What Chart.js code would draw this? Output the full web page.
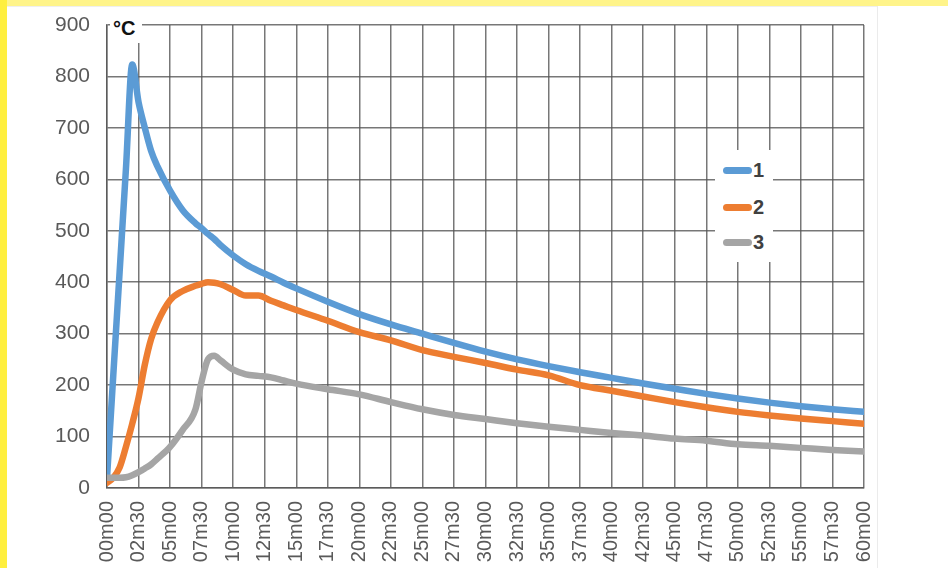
<!DOCTYPE html>
<html>
<head>
<meta charset="utf-8">
<script src="https://cdn.jsdelivr.net/npm/chart.js@4.4.1/dist/chart.umd.min.js"></script>
<style>
  body { margin: 0; background: #fff; }
  #wrap { position: relative; width: 948px; height: 568px; overflow: hidden; background: #fff; }
  #topband { position: absolute; left: 0; top: 0; width: 948px; height: 6px; background: #fff48a; }
  #leftband { position: absolute; left: 0; top: 0; width: 7px; height: 568px; background: #ffef3e; }
  #edge { position: absolute; left: 877px; top: 6px; width: 1px; height: 562px; background: #ebebeb; }
  #panelTop { position: absolute; left: 7px; top: 6px; width: 870px; height: 1px; background: #efefef; }
  canvas { position: absolute; left: 0; top: 0; }
  #unit { position: absolute; left: 110px; top: 14px; width: 32px; height: 29px; background: #fff;
          font: bold 20px "Liberation Sans", Arial, sans-serif; color: #111; line-height: 29px; padding-left: 3px; box-sizing: border-box; }
  #legend { position: absolute; left: 715px; top: 150px; width: 58px; height: 112px; background: #fff; }
  .item { position: absolute; left: 8px; height: 22px; }
  .swatch { position: absolute; left: 0; top: 8px; width: 29px; height: 7px; border-radius: 4px; }
  .lab { position: absolute; left: 30px; top: 0; font: bold 20px "Liberation Sans", Arial, sans-serif; color: #404040; line-height: 22px; }
</style>
</head>
<body>
<div id="wrap">
  <div id="topband"></div>
  <div id="leftband"></div>
  <div id="panelTop"></div>
  <div id="edge"></div>
  <canvas id="myChart" width="948" height="568"></canvas>
  <div id="unit">°C</div>
  <div id="legend"></div>
</div>
<script>
// temps en minutes
const temps = [0, 0.5, 1, 1.5, 2, 2.5, 3, 3.5, 4, 5, 6, 7, 7.5, 8, 8.5, 9, 10, 11, 12, 13, 14, 15,
  17.5, 20, 22.5, 25, 27.5, 30, 32.5, 35, 37.5, 40, 42.5, 45, 47.5, 50, 52.5, 55, 57.5, 60];

const serie1 = [20, 220, 420, 620, 823, 750, 700, 655, 625, 578, 540, 515, 505, 494, 484, 472, 452, 435, 422, 411, 399, 388,
  362, 338, 318, 300, 282, 265, 250, 237, 225, 214, 203, 193, 183, 174, 166, 159, 153, 148];

const serie2 = [10, 20, 40, 80, 125, 175, 240, 290, 322, 365, 383, 393, 397, 400, 399, 396, 385, 374, 374, 364, 355, 346,
  325, 303, 287, 268, 255, 243, 230, 219, 200, 189, 178, 167, 157, 148, 141, 135, 130, 125];

const serie3 = [20, 20, 20, 21, 25, 31, 38, 46, 57, 80, 113, 152, 207, 250, 257, 248, 230, 221, 218, 215, 209, 203,
  192, 182, 167, 153, 142, 134, 126, 119, 113, 107, 102, 96, 92, 85, 82, 78, 74, 71];

const nomes = ['1', '2', '3'];
const cores = ['#5b9bd5', '#ed7d31', '#a5a5a5'];

const rotulosX = ['00m00', '02m30', '05m00', '07m30', '10m00', '12m30', '15m00', '17m30', '20m00', '22m30',
  '25m00', '27m30', '30m00', '32m30', '35m00', '37m30', '40m00', '42m30', '45m00', '47m30', '50m00',
  '52m30', '55m00', '57m30', '60m00'];
const rotulosY = ['0', '100', '200', '300', '400', '500', '600', '700', '800', '900'];

function pontos(valores) {
    return temps.map((t, i) => ({ x: t, y: valores[i] }));
}

const series = [serie1, serie2, serie3];

const data = {
    datasets: series.map((s, i) => ({
        label: nomes[i],
        data: pontos(s),
        borderColor: cores[i],
        backgroundColor: cores[i],
        borderWidth: 6.5,
        pointRadius: 0,
        cubicInterpolationMode: 'monotone',
        borderCapStyle: 'round',
        borderJoinStyle: 'round',
        order: 3 - i
    }))
};

const corGrade = 'rgba(85,85,85,0.8)';
const fonteX = { family: '"Liberation Sans", Arial, sans-serif', size: 20 };
const fonteY = { family: '"Liberation Sans", Arial, sans-serif', size: 21 };

const config = {
    type: 'line',
    data: data,
    options: {
        responsive: false,
        animation: false,
        devicePixelRatio: 1,
        layout: { padding: { left: 0, right: 84, top: 25, bottom: 0 } },
        plugins: { legend: { display: false }, tooltip: { enabled: false } },
        scales: {
            x: {
                type: 'linear',
                min: 0,
                max: 60,
                afterFit: (scale) => { scale.height = 80; },
                ticks: {
                    stepSize: 2.5,
                    autoSkip: false,
                    maxTicksLimit: 100,
                    minRotation: 90,
                    maxRotation: 90,
                    padding: 13,
                    color: '#595959',
                    font: fonteX,
                    callback: (v, idx) => rotulosX[idx]
                },
                grid: { color: corGrade, lineWidth: 1.5, drawTicks: false },
                border: { color: corGrade, width: 1.5 }
            },
            y: {
                min: 0,
                max: 900,
                afterFit: (scale) => { scale.width = 107; scale.paddingTop = 0; },
                ticks: {
                    stepSize: 100,
                    padding: 17,
                    color: '#595959',
                    font: fonteY,
                    callback: (v, idx) => rotulosY[idx]
                },
                grid: { color: corGrade, lineWidth: 1.5, drawTicks: false },
                border: { color: corGrade, width: 1.5 }
            }
        }
    }
};

const myChart = new Chart(document.getElementById('myChart'), config);

// legenda
const legenda = document.getElementById('legend');
const posY = [9, 46, 81];
nomes.forEach((n, i) => {
    const item = document.createElement('div');
    item.className = 'item';
    item.style.top = posY[i] + 'px';
    item.innerHTML = '<div class="swatch" style="background:' + cores[i] + '"></div><div class="lab">' + n + '</div>';
    legenda.appendChild(item);
});
</script>
</body>
</html>
